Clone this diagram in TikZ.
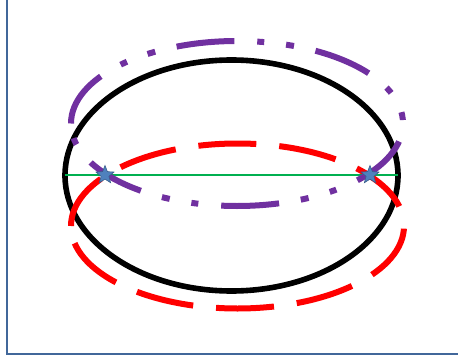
\documentclass[tikz,border=0pt]{standalone}
\usetikzlibrary{shapes.geometric}
\definecolor{frameblue}{HTML}{41679A}
\definecolor{ringpurple}{HTML}{7030A0}
\definecolor{ringred}{HTML}{FF0000}
\definecolor{axisgreen}{HTML}{00B050}
\definecolor{starfill}{HTML}{4F81BD}
\definecolor{starline}{HTML}{385D8A}
\begin{document}
\begin{tikzpicture}[x=1pt,y=1pt,
  frameline/.style={draw=frameblue,line width=2pt},
  mainring/.style={draw=black,line width=5.6pt},
  lowring/.style={draw=ringred,line width=6pt,dash pattern=on 58pt off 23pt},
  highring/.style={draw=ringpurple,line width=6pt,
    dash pattern=on 58pt off 23pt on 7pt off 22pt on 8pt off 22pt},
  axisline/.style={draw=axisgreen,line width=2.2pt},
  focus/.style={star,star points=5,star point ratio=2.3,minimum size=19pt,
    inner sep=0pt,fill=starfill,draw=starline,line width=0.6pt}]
\useasboundingbox (0,0) rectangle (458,360);

% outer frame: left and bottom edges
\coordinate (ftop) at (7,362);
\coordinate (fcorner) at (7,6.3);
\coordinate (fright) at (460,6.3);
\draw[frameline] (ftop) -- (fcorner) -- (fright);

% solid black ellipse
\coordinate (bc) at (231.5,184.5);
\draw[mainring] (bc) ellipse [x radius=166.5, y radius=115.5];

% red dashed ellipse, traced clockwise from its leftmost point
\coordinate (rleft) at (71,134);
\draw[lowring] (rleft) arc [start angle=180, end angle=-180,
  x radius=166.5, y radius=82.5];

% green axis
\coordinate (gl) at (65,185);
\coordinate (gr) at (398,185);
\draw[axisline] (gl) -- (gr);

% purple dash-dot-dot ellipse, traced clockwise from its leftmost point
\coordinate (pleft) at (71,236.5);
\draw[highring] (pleft) arc [start angle=180, end angle=-180,
  x radius=166, y radius=82.5];

% the two star markers
\node[focus] (s1) at (105,185) {};
\node[focus] (s2) at (370,185) {};
\end{tikzpicture}
\end{document}
